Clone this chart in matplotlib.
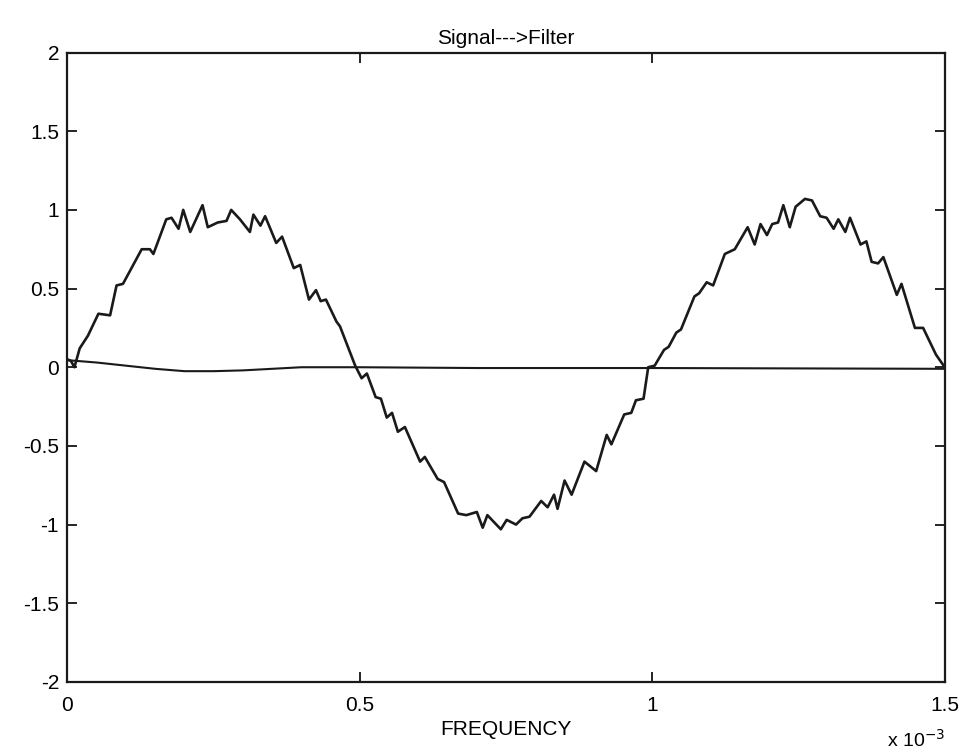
import matplotlib.pyplot as plt

# values (x in units of 1e-3)
sig_x = [0.0, 0.006, 0.012, 0.021, 0.035, 0.053, 0.073, 0.084, 0.095, 0.127,
         0.141, 0.147, 0.169, 0.178, 0.19, 0.198, 0.21, 0.231, 0.24, 0.257,
         0.272, 0.28, 0.295, 0.312, 0.318, 0.33, 0.338, 0.357, 0.367, 0.387,
         0.398, 0.413, 0.425, 0.433, 0.442, 0.46, 0.466, 0.492, 0.503, 0.512,
         0.527, 0.536, 0.546, 0.555, 0.565, 0.577, 0.603, 0.611, 0.633, 0.644,
         0.668, 0.682, 0.70, 0.71, 0.718, 0.741, 0.751, 0.767, 0.778, 0.79,
         0.81, 0.821, 0.832, 0.838, 0.85, 0.862, 0.884, 0.904, 0.922, 0.93,
         0.952, 0.964, 0.972, 0.985, 0.993, 1.004, 1.02, 1.028, 1.041, 1.049,
         1.072, 1.08, 1.093, 1.104, 1.124, 1.141, 1.163, 1.175, 1.185, 1.196,
         1.205, 1.215, 1.224, 1.235, 1.245, 1.261, 1.273, 1.287, 1.298, 1.31,
         1.318, 1.33, 1.338, 1.356, 1.366, 1.375, 1.386, 1.395, 1.418, 1.426,
         1.449, 1.463, 1.485, 1.5]
sig_y = [0.05, 0.04, 0.0, 0.12, 0.2, 0.34, 0.33, 0.52, 0.53, 0.75,
         0.75, 0.72, 0.94, 0.95, 0.88, 1.0, 0.86, 1.03, 0.89, 0.92,
         0.93, 1.0, 0.94, 0.86, 0.97, 0.9, 0.96, 0.79, 0.83, 0.63,
         0.65, 0.43, 0.49, 0.42, 0.43, 0.29, 0.26, 0.01, -0.07, -0.04,
         -0.19, -0.2, -0.32, -0.29, -0.41, -0.38, -0.6, -0.57, -0.71, -0.73,
         -0.93, -0.94, -0.92, -1.02, -0.94, -1.03, -0.97, -1.0, -0.96, -0.95,
         -0.85, -0.89, -0.81, -0.9, -0.72, -0.81, -0.6, -0.66, -0.43, -0.49,
         -0.3, -0.29, -0.21, -0.2, 0.0, 0.01, 0.11, 0.13, 0.22, 0.24,
         0.45, 0.47, 0.54, 0.52, 0.72, 0.75, 0.89, 0.78, 0.91, 0.84,
         0.91, 0.92, 1.03, 0.89, 1.02, 1.07, 1.06, 0.96, 0.95, 0.88,
         0.94, 0.86, 0.95, 0.78, 0.8, 0.67, 0.66, 0.7, 0.46, 0.53,
         0.25, 0.25, 0.08, 0.0]

filt_x = [0.0, 0.05, 0.1, 0.15, 0.2, 0.25, 0.3, 0.35, 0.4, 0.5, 0.7, 1.0, 1.5]
filt_y = [0.045, 0.03, 0.01, -0.01, -0.025, -0.025, -0.02, -0.01, 0.0, 0.0,
          -0.005, -0.005, -0.01]

xticks = [0, 0.5, 1, 1.5]
xticklabels = ['0', '0.5', '1', '1.5']
yticks = [-2, -1.5, -1, -0.5, 0, 0.5, 1, 1.5, 2]
yticklabels = ['-2', '-1.5', '-1', '-0.5', '0', '0.5', '1', '1.5', '2']

plt.rcParams['font.family'] = ['Liberation Sans', 'DejaVu Sans']

fig = plt.figure(figsize=(9.77, 7.51), dpi=100)
ax = fig.add_axes([0.069, 0.092, 0.898, 0.838])

ax.plot(sig_x, sig_y, color='#1a1a1a', lw=1.9)
ax.plot(filt_x, filt_y, color='#1a1a1a', lw=1.5)

ax.set_xlim(0, 1.5)
ax.set_ylim(-2, 2)
ax.set_xticks(xticks)
ax.set_xticklabels(xticklabels)
ax.set_yticks(yticks)
ax.set_yticklabels(yticklabels)

ax.tick_params(direction='in', top=True, right=True, labelsize=15,
               length=7, width=1.2)
ax.tick_params(axis='x', pad=10)
ax.tick_params(axis='y', pad=6)
for s in ax.spines.values():
    s.set_linewidth(1.6)
    s.set_color('#1a1a1a')

ax.set_title('Signal--->Filter', fontsize=15, pad=6)
ax.set_xlabel('FREQUENCY', fontsize=15, labelpad=4)
# MATLAB-style exponent note under the right end of the x axis
ax.text(1.0, -0.075, r'x 10$^{-3}$', transform=ax.transAxes,
        ha='right', va='top', fontsize=14)

fig.savefig('out.png', dpi=100)
